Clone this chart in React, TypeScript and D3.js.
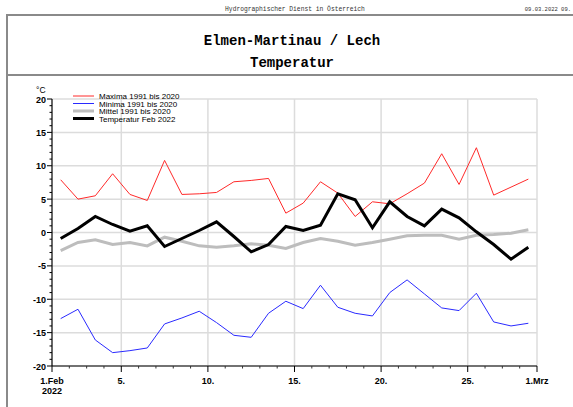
import * as d3 from 'd3'
import React from 'react'

// daily values, Feb 2022 (one point per day, plotted at midday)
const maxima = [7.9, 5.0, 5.5, 8.8, 5.7, 4.8, 10.8, 5.7, 5.8, 6.0, 7.6, 7.8, 8.1, 2.9, 4.4, 7.6, 5.9, 2.4, 4.6, 4.3, 5.8, 7.4, 11.8, 7.2, 12.7, 5.6, 6.8, 8.0]
const minima = [-12.9, -11.5, -16.1, -18.0, -17.7, -17.3, -13.7, -12.8, -11.8, -13.5, -15.4, -15.7, -12.1, -10.3, -11.4, -7.9, -11.2, -12.1, -12.5, -9.0, -7.1, -9.2, -11.3, -11.7, -9.1, -13.4, -14.0, -13.6]
const mittel = [-2.7, -1.5, -1.1, -1.8, -1.5, -2.0, -0.7, -1.3, -2.0, -2.2, -2.0, -1.7, -1.9, -2.4, -1.5, -0.9, -1.3, -1.9, -1.5, -1.0, -0.5, -0.4, -0.4, -1.0, -0.4, -0.3, -0.1, 0.4]
const temperatur = [-0.9, 0.6, 2.4, 1.2, 0.2, 1.0, -2.1, -0.9, 0.3, 1.6, -0.6, -2.9, -1.8, 0.9, 0.3, 1.1, 5.8, 4.9, 0.7, 4.6, 2.4, 1.0, 3.5, 2.2, 0.1, -1.8, -4.0, -2.2]

const yTicks = [20, 15, 10, 5, 0, -5, -10, -15, -20]
const xLabels = [
  { day: 0, text: ['1.Feb', '2022'] },
  { day: 4, text: ['5.'] },
  { day: 9, text: ['10.'] },
  { day: 14, text: ['15.'] },
  { day: 19, text: ['20.'] },
  { day: 24, text: ['25.'] },
  { day: 28, text: ['1.Mrz'] }
]

const series = [
  { name: 'Maxima 1991 bis 2020', values: maxima, color: '#ff2a2a', width: 1 },
  { name: 'Minima 1991 bis 2020', values: minima, color: '#2a2aff', width: 1 },
  { name: 'Mittel 1991 bis 2020', values: mittel, color: '#bdbdbd', width: 3 },
  { name: 'Temperatur Feb 2022', values: temperatur, color: '#000000', width: 3 }
]

export default function App() {
  const x = d3.scaleLinear().domain([0, 28]).range([52, 537])
  const y = d3.scaleLinear().domain([-20, 20]).range([366, 99])

  const line = d3
    .line<number>()
    .x((_, i) => x(i + 0.5))
    .y((d) => y(d))

  const minorY = d3.range(-20, 21, 1)
  const days = d3.range(0, 29)
  const sans = 'Liberation Sans, Arial, sans-serif'
  const mono = 'Liberation Mono, Courier New, monospace'

  return (
    <svg width={573} height={407} style={{ position: 'absolute', left: 0, top: 0, background: '#fff' }}>
      {/* header */}
      <text x={295} y={11} fontFamily={mono} fontSize={6.3} textAnchor="middle" fill="#333">
        Hydrographischer Dienst in Österreich
      </text>
      <text x={571} y={11} fontFamily={mono} fontSize={5.5} textAnchor="end" fill="#333">
        09.03.2022 09.
      </text>

      {/* frame */}
      <rect x={7} y={15} width={580} height={400} fill="none" stroke="#8a8a8a" strokeWidth={2} />
      <line x1={7} x2={580} y1={75} y2={75} stroke="#8a8a8a" strokeWidth={2} />
      <text x={292} y={45} fontFamily={mono} fontWeight="bold" fontSize={14} textAnchor="middle">
        Elmen-Martinau / Lech
      </text>
      <text x={292} y={67} fontFamily={mono} fontWeight="bold" fontSize={14} textAnchor="middle">
        Temperatur
      </text>

      {/* grid */}
      {yTicks.map((t) => (
        <line key={'gy' + t} x1={x(0)} x2={x(28)} y1={y(t)} y2={y(t)} stroke="#dcdcdc" strokeWidth={1.5} />
      ))}
      {xLabels.slice(1).map((d) => (
        <line key={'gx' + d.day} x1={x(d.day)} x2={x(d.day)} y1={y(20)} y2={y(-20)} stroke="#dcdcdc" strokeWidth={1.5} />
      ))}

      {/* series */}
      {series.map((s) => (
        <path
          key={s.name}
          d={line(s.values) ?? ''}
          fill="none"
          stroke={s.color}
          strokeWidth={s.width}
          strokeLinejoin="miter"
        />
      ))}

      {/* y axis */}
      <line x1={x(0)} x2={x(0)} y1={y(20)} y2={y(-20)} stroke="#000" strokeWidth={1.2} />
      {minorY.map((t) => (
        <line
          key={'ty' + t}
          x1={x(0) - (t % 5 === 0 ? 5 : 2.5)}
          x2={x(0)}
          y1={y(t)}
          y2={y(t)}
          stroke="#000"
          strokeWidth={1}
        />
      ))}
      {yTicks.map((t) => (
        <text key={'ly' + t} x={x(0) - 6} y={y(t) + 3.5} fontFamily={sans} fontWeight="bold" fontSize={9} textAnchor="end">
          {t}
        </text>
      ))}
      <text x={36} y={93} fontFamily={sans} fontSize={8.5}>
        °C
      </text>

      {/* x axis */}
      <line x1={x(0)} x2={x(28)} y1={y(-20)} y2={y(-20)} stroke="#000" strokeWidth={1.2} />
      {days.map((d) => {
        const major = d === 0 || d === 28 || (d + 1) % 5 === 0
        return (
          <line
            key={'tx' + d}
            x1={x(d)}
            x2={x(d)}
            y1={y(-20)}
            y2={y(-20) + (major ? 6 : 2.5)}
            stroke={major ? '#000' : '#333'}
            strokeWidth={1}
          />
        )
      })}
      {xLabels.map((d) => (
        <text key={'lx' + d.day} x={x(d.day)} y={384} fontFamily={sans} fontWeight="bold" fontSize={9} textAnchor="middle">
          {d.text.map((t, i) => (
            <tspan key={t} x={x(d.day)} dy={i === 0 ? 0 : 10}>
              {t}
            </tspan>
          ))}
        </text>
      ))}

      {/* legend */}
      {series.map((s, i) => (
        <g key={'lg' + s.name} transform={`translate(73,${96 + i * 7.5})`}>
          <line x1={0} x2={21} y1={0} y2={0} stroke={s.color} strokeWidth={s.width} />
          <text x={26} y={3} fontFamily={sans} fontSize={8}>
            {s.name}
          </text>
        </g>
      ))}
    </svg>
  )
}
